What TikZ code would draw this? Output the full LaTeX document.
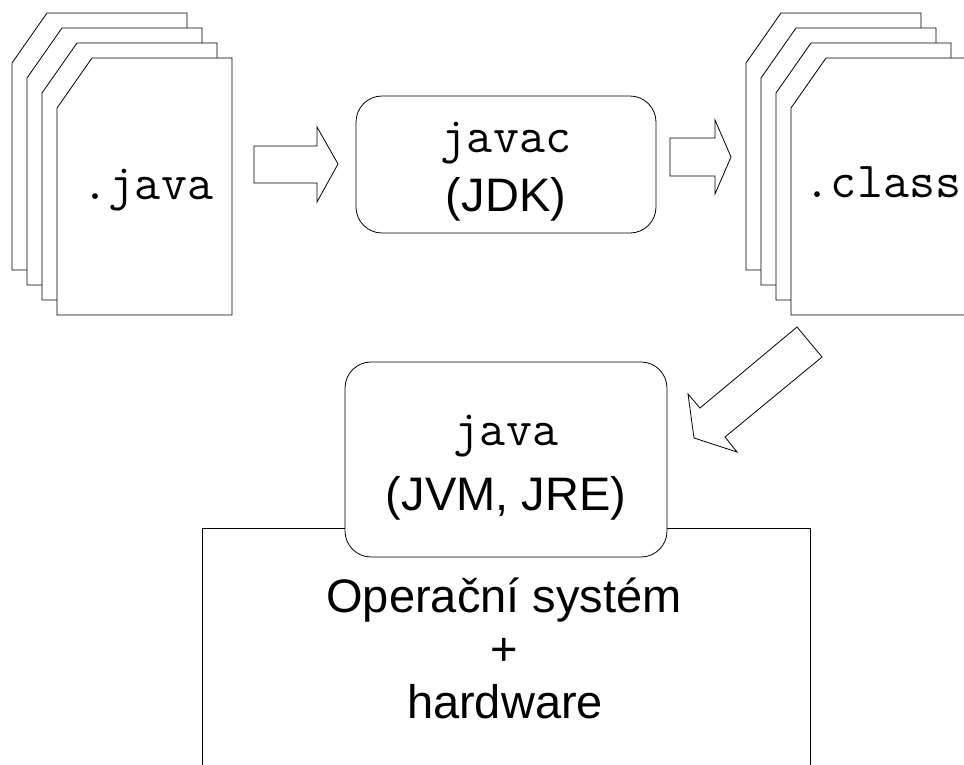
\documentclass[tikz,border=0pt]{standalone}
\usepackage{fontspec}
\setmainfont{Liberation Sans}
\begin{document}
\begin{tikzpicture}[x=1pt,y=-1pt,line width=0.8pt,line join=miter]
\tikzset{
  pagesheet/.style={draw=black,fill=white},
  rbox/.style={draw=black,fill=white,rounded corners=26pt,inner sep=0pt},
  blockarrow/.style={draw=black,fill=white,line join=miter},
  monotxt/.style={inner sep=0pt,anchor=base,font=\ttfamily\fontsize{50.5}{56}\selectfont},
  sanstxt/.style={inner sep=0pt,anchor=base,font=\fontsize{47}{53}\selectfont},
}
\useasboundingbox (0,0) rectangle (964,764);
\fill[white] (0,0) rectangle (964,764);
\begin{scope}
\clip (0,0) rectangle (964,764);
% .java stack
\foreach \i in {0,...,3}{
  \draw[pagesheet] ({12+15*\i},{63+15*\i}) -- ({47+15*\i},{13+15*\i}) -- ({187+15*\i},{13+15*\i})
     -- ({187+15*\i},{270+15*\i}) -- ({12+15*\i},{270+15*\i}) -- cycle;
}
\node[monotxt] (javasrc) at (148,199) {.java};
% .class stack
\foreach \i in {0,...,3}{
  \draw[pagesheet] ({746+15*\i},{63+15*\i}) -- ({781+15*\i},{13+15*\i}) -- ({921+15*\i},{13+15*\i})
     -- ({921+15*\i},{270+15*\i}) -- ({746+15*\i},{270+15*\i}) -- cycle;
}
\node[monotxt] (classfiles) at (883,197) {.class};
% javac box
\node[rbox,minimum width=300pt,minimum height=137pt] (javacbox) at (506,164.5) {};
\node[monotxt] (javactxt) at (506,152) {javac};
\node[sanstxt] (jdktxt) at (506,211) {(JDK)};
% arrows
\draw[blockarrow] (254,146) -- (317,146) -- (317,127) -- (338,164) -- (317,202) -- (317,183) -- (254,183) -- cycle;
\draw[blockarrow] (670,138) -- (715,138) -- (715,120) -- (731,157) -- (715,194) -- (715,176) -- (670,176) -- cycle;
\draw[blockarrow] (797,327) -- (822,357) -- (725,437) -- (737,452) -- (694,438) -- (688,394) -- (700,408) -- cycle;
% OS rectangle (open at bottom)
\coordinate (osbl) at (202,770);
\coordinate (ostl) at (202,528);
\coordinate (ostr) at (810,528);
\coordinate (osbr) at (810,770);
\draw (osbl) -- (ostl) -- (ostr) -- (osbr);
% JVM box
\node[rbox,minimum width=322pt,minimum height=195pt] (jvmbox) at (506,459.5) {};
\node[monotxt] (javatxt) at (506,445) {java};
\node[sanstxt] (jvmtxt) at (506,510) {(JVM, JRE)};
% OS text
\node[sanstxt] (ostxt) at (504,612) {Operační systém};
\node[sanstxt] (plustxt) at (504,665) {+};
\node[sanstxt] (hwtxt) at (505,718) {hardware};
\end{scope}
\end{tikzpicture}
\end{document}
